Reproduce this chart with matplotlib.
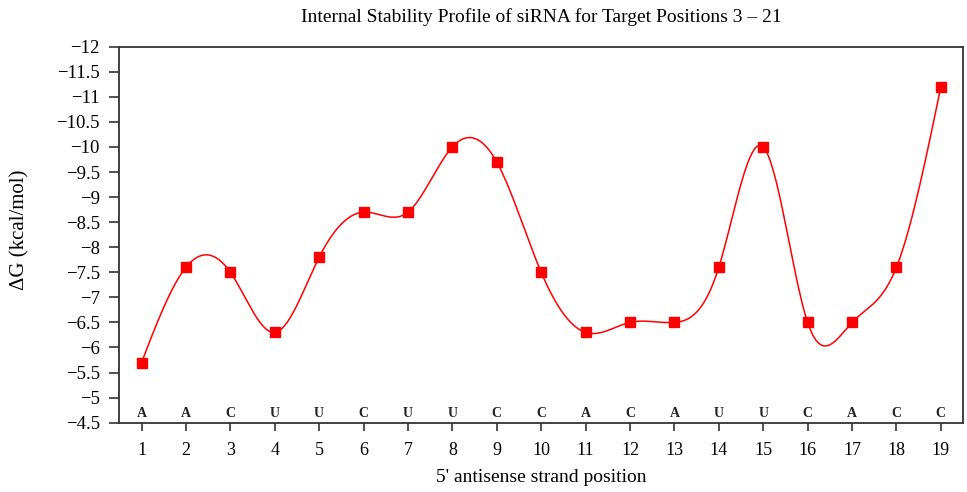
import numpy as np
import matplotlib
matplotlib.use("Agg")
import matplotlib.pyplot as plt

# Free energy of each 5' antisense position
positions = list(range(1, 20))
delta_g = [-5.7, -7.6, -7.5, -6.3, -7.8, -8.7, -8.7, -10.0, -9.7, -7.5,
           -6.3, -6.5, -6.5, -7.6, -10.0, -6.5, -6.5, -7.6, -11.2]
bases = ["A", "A", "C", "U", "U", "C", "U", "U", "C", "C",
         "A", "C", "A", "U", "U", "C", "A", "C", "C"]
y_ticks = [-12, -11.5, -11, -10.5, -10, -9.5, -9, -8.5, -8, -7.5, -7,
           -6.5, -6, -5.5, -5, -4.5]


def natural_spline(x, y, xs):
    x = np.asarray(x, float)
    y = np.asarray(y, float)
    n = len(x)
    h = np.diff(x)
    A = np.zeros((n, n))
    b = np.zeros(n)
    A[0, 0] = A[-1, -1] = 1.0
    for i in range(1, n - 1):
        A[i, i - 1] = h[i - 1]
        A[i, i] = 2 * (h[i - 1] + h[i])
        A[i, i + 1] = h[i]
        b[i] = 3 * ((y[i + 1] - y[i]) / h[i] - (y[i] - y[i - 1]) / h[i - 1])
    c = np.linalg.solve(A, b)
    out = np.empty_like(xs)
    for k, xv in enumerate(xs):
        i = min(max(np.searchsorted(x, xv) - 1, 0), n - 2)
        dx = xv - x[i]
        bi = (y[i + 1] - y[i]) / h[i] - h[i] * (2 * c[i] + c[i + 1]) / 3
        di = (c[i + 1] - c[i]) / (3 * h[i])
        out[k] = y[i] + bi * dx + c[i] * dx ** 2 + di * dx ** 3
    return out


plt.rcParams["font.family"] = ["Liberation Serif", "DejaVu Serif"]

W, H = 967, 492
fig = plt.figure(figsize=(W / 100, H / 100), dpi=100)
ax = fig.add_axes([0.1234, 0.1409, 0.9959 - 0.1234, 0.9051 - 0.1409])

xs = np.linspace(positions[0], positions[-1], 800)
ax.plot(xs, natural_spline(positions, delta_g, xs), color="#ff0000", lw=1.1)
ax.plot(positions, delta_g, linestyle="none", marker="s", markersize=7.5,
        color="#ff0000")

for p, base in zip(positions, bases):
    ax.text(p, -4.68, base, ha="center", va="center", fontsize=10,
            fontweight="bold", color="#222222")

ax.set_xlim(0.5, 19.5)
ax.set_ylim(-4.5, -12)
ax.set_xticks(positions)
ax.set_xticklabels([str(p) for p in positions])
ax.set_yticks(y_ticks)
ax.set_yticklabels([f"{v:g}".replace("-", "\u2212") for v in y_ticks])
ax.tick_params(axis="y", direction="out", length=7, width=1.2, pad=7,
               labelsize=13.5, color="#333333")
ax.tick_params(axis="x", direction="out", length=6, width=1.2, pad=8,
               labelsize=13, color="#333333")
for s in ax.spines.values():
    s.set_color("#333333")
    s.set_linewidth(1.3)

fig.text(541 / W, 1 - 17 / H,
         "Internal Stability Profile of siRNA for Target Positions 3 \u2013 21",
         fontsize=14, ha="center", va="center")
fig.text(541 / W, 1 - 478 / H, "5' antisense strand position",
         fontsize=14, ha="center", va="center")
fig.text(20 / W, 1 - 230 / H, "\u0394G (kcal/mol)", fontsize=15,
         rotation=90, ha="center", va="center")

fig.savefig("out.png", dpi=100)
